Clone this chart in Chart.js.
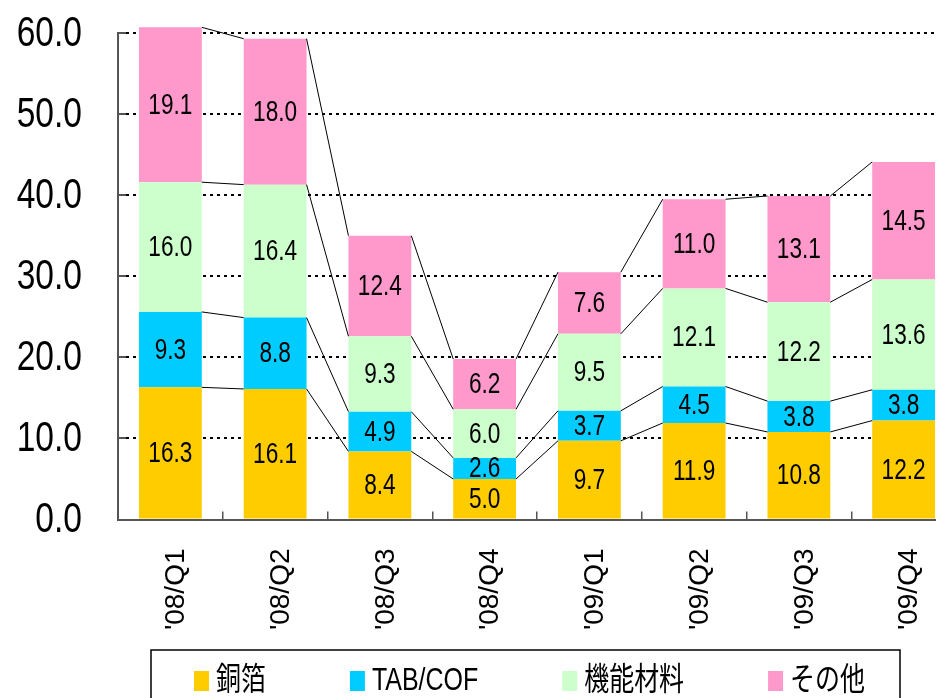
<!DOCTYPE html>
<html>
<head>
<meta charset="utf-8">
<script src="https://cdn.jsdelivr.net/npm/chart.js@4.4.1/dist/chart.umd.min.js"></script>
<style>
    html, body { margin: 0; padding: 0; overflow: hidden; background: #fff; }
    #wrap { width: 960px; height: 720px; }
</style>
</head>
<body>
<div id="wrap"><canvas id="salesChart"></canvas></div>
<script>
const quarters = ["'08/Q1", "'08/Q2", "'08/Q3", "'08/Q4", "'09/Q1", "'09/Q2", "'09/Q3", "'09/Q4"];
const copperFoil = [16.3, 16.1, 8.4, 5.0, 9.7, 11.9, 10.8, 12.2];
const tabCof = [9.3, 8.8, 4.9, 2.6, 3.7, 4.5, 3.8, 3.8];
const functionalMaterials = [16.0, 16.4, 9.3, 6.0, 9.5, 12.1, 12.2, 13.6];
const others = [19.1, 18.0, 12.4, 6.2, 7.6, 11.0, 13.1, 14.5];
const seriesNames = ['銅箔', 'TAB/COF', '機能材料', 'その他'];
const seriesColors = ['#FFCC00', '#00CCFF', '#CCFFCC', '#FF99CC'];

const FONT = '"Liberation Sans", "Noto Sans CJK JP", sans-serif';
const SQUEEZE = 0.78; // the original uses a narrow face

function narrowText(ctx, text, x, y) {
    ctx.save();
    ctx.translate(x, y);
    ctx.scale(SQUEEZE, 1);
    ctx.fillText(text, 0, 0);
    ctx.restore();
}

// connector lines between stacks + value labels in each segment
const seriesLines = {
    id: 'seriesLines',
    afterDatasetsDraw(chart) {
        const ctx = chart.ctx;
        ctx.save();
        ctx.strokeStyle = '#000';
        ctx.lineWidth = 1;
        chart.data.datasets.forEach((ds, d) => {
            const bars = chart.getDatasetMeta(d).data;
            for (let i = 0; i < bars.length - 1; i++) {
                const a = bars[i], b = bars[i + 1];
                ctx.beginPath();
                ctx.moveTo(a.x + a.width / 2, a.y);
                ctx.lineTo(b.x - b.width / 2, b.y);
                ctx.stroke();
            }
        });
        ctx.fillStyle = '#000';
        ctx.font = '29px ' + FONT;
        ctx.textAlign = 'center';
        ctx.textBaseline = 'middle';
        chart.data.datasets.forEach((ds, d) => {
            chart.getDatasetMeta(d).data.forEach((bar, i) => {
                const c = bar.getCenterPoint();
                narrowText(ctx, ds.data[i].toFixed(1), c.x, c.y + 1);
            });
        });
        ctx.restore();
    }
};

// y tick labels, drawn narrow
const narrowYLabels = {
    id: 'narrowYLabels',
    afterDraw(chart) {
        const ctx = chart.ctx;
        const y = chart.scales.y;
        ctx.save();
        ctx.fillStyle = '#000';
        ctx.font = '43px ' + FONT;
        ctx.textAlign = 'right';
        ctx.textBaseline = 'middle';
        y.ticks.forEach(t => {
            narrowText(ctx, t.value.toFixed(1), y.right - 36, y.getPixelForValue(t.value) + 1);
        });
        ctx.restore();
    }
};

// boxed legend under the axis labels
const boxLegend = {
    id: 'boxLegend',
    afterDraw(chart) {
        const ctx = chart.ctx;
        const box = { x: 151, y: 650, w: 749, h: 70 };
        ctx.save();
        ctx.strokeStyle = '#000';
        ctx.lineWidth = 1.5;
        ctx.strokeRect(box.x, box.y, box.w, box.h);
        ctx.font = '32px ' + FONT;
        ctx.textBaseline = 'alphabetic';
        ctx.textAlign = 'left';
        let x = box.x + 43;
        chart.data.datasets.forEach(ds => {
            ctx.fillStyle = ds.backgroundColor;
            ctx.fillRect(x, box.y + 21, 15, 20);
            const tx = x + 22;
            ctx.fillStyle = '#000';
            narrowText(ctx, ds.label, tx, box.y + 40);
            x = tx + ctx.measureText(ds.label).width * SQUEEZE + 84;
        });
        ctx.restore();
    }
};

const seriesData = [copperFoil, tabCof, functionalMaterials, others];

new Chart(document.getElementById('salesChart'), {
    type: 'bar',
    data: {
        labels: quarters,
        datasets: seriesData.map((values, i) => ({
            label: seriesNames[i],
            data: values,
            backgroundColor: seriesColors[i],
            borderWidth: 0,
            barPercentage: 0.6,
            categoryPercentage: 1.0,
            clip: false
        }))
    },
    options: {
        animation: false,
        responsive: true,
        maintainAspectRatio: false,
        layout: { padding: { top: 33, right: 4, bottom: 0, left: 0 } },
        plugins: {
            legend: { display: false },
            tooltip: { enabled: false }
        },
        scales: {
            x: {
                stacked: true,
                afterFit: scale => {
                    scale.height = 200.5;
                    scale.paddingLeft = 0;
                    scale.paddingRight = 0;
                },
                grid: {
                    offset: true,
                    drawOnChartArea: false,
                    drawTicks: true,
                    tickLength: -8,
                    color: '#555',
                    lineWidth: 1.5
                },
                border: { color: '#555', width: 2 },
                ticks: {
                    autoSkip: false,
                    minRotation: 90,
                    maxRotation: 90,
                    padding: 37,
                    labelOffset: 6,
                    color: '#000',
                    font: { family: FONT, size: 28 }
                }
            },
            y: {
                stacked: true,
                min: 0,
                max: 60,
                afterFit: scale => {
                    scale.width = 118;
                    scale.paddingTop = 0;
                    scale.paddingBottom = 0;
                },
                grid: {
                    color: c => (c.tick && c.tick.value === 0 ? 'rgba(0,0,0,0)' : '#000'),
                    lineWidth: 2,
                    tickLength: -8,
                    tickColor: '#555'
                },
                border: { color: '#555', width: 2, dash: [3, 4] },
                ticks: {
                    stepSize: 10,
                    display: false
                }
            }
        }
    },
    plugins: [seriesLines, narrowYLabels, boxLegend]
});
</script>
</body>
</html>
